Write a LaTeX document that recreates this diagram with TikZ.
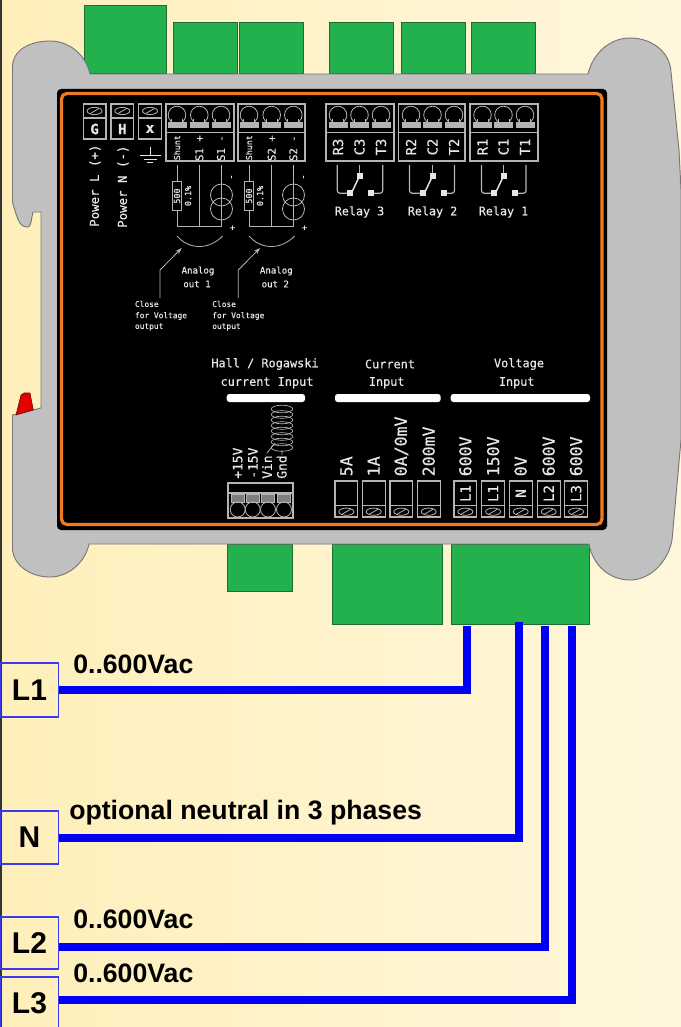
\documentclass[tikz,border=0pt]{standalone}
\usepackage{fontspec}
\usetikzlibrary{arrows.meta}
\setmainfont{Liberation Sans}
\newfontfamily\cadfont[FakeBold=0.4]{DejaVu Sans Mono}
\definecolor{bgl}{HTML}{FEEFBA}
\definecolor{bgr}{HTML}{FFF7DC}
\definecolor{greybody}{HTML}{C0C0C0}
\definecolor{bodyline}{HTML}{777777}
\definecolor{greenblock}{HTML}{23B14D}
\definecolor{greenline}{HTML}{1E6B38}
\definecolor{panelorange}{HTML}{F07A1E}
\definecolor{wireblue}{HTML}{0000F5}
\definecolor{boxblue}{HTML}{3A3AF0}
\definecolor{cadgrey}{HTML}{B4B4B4}
\definecolor{cadtext}{HTML}{E6E6E6}
\newcount\labn
\newcommand\cadsz[1]{\fontsize{#1}{#1}\cadfont}
% \txt{options}{x,y}{font size pt}{text}
\newcommand\txt[4]{\global\advance\labn by 1
  \node[cadlabel,#1] (lab\the\labn) at (#2) {\cadsz{#3}#4};}
\newcommand\screwtop[1]{%
  \draw[cadline] (#1,115) circle[radius=8.8];
  \fill[black] (#1-5.5,119) rectangle (#1+5.5,122);
  \draw[cadline] (#1-5.5,119) -- (#1-5.5,122) (#1+5.5,119) -- (#1+5.5,122);
  \draw[cadline,fill=cadgrey] (#1-9,122) rectangle (#1+9,127);}
\newcommand\screwflat[2]{%
  \draw[cadline] (#1,#2) ellipse[x radius=7.5, y radius=3.6];
  \draw[cadline] (#1-4.5,#2+2.6) -- (#1+4.5,#2-2.6);}
\newcommand\relaysym[4]{%
  \draw[cadline,line width=.9pt,rounded corners=2pt] (#1,165) -- (#1,193.3) -- (#2-10,193.3);
  \draw[cadline,line width=.7pt] (#2,165) -- (#2,176);
  \draw[cadline,line width=.9pt,rounded corners=2pt] (#3,165) -- (#3,193.3) -- (#2+11,193.3);
  \fill[cadtext] (#2-13,190.3) rectangle +(6,6);
  \fill[cadtext] (#2-3,173) rectangle +(6,6);
  \fill[cadtext] (#2+8.5,190.3) rectangle +(6,6);
  \draw[cadtext,line width=1.1pt] (#2,176) -- (#2-8,193);
  \txt{}{#2,212}{8.8}{Relay #4}}
\newcommand\analog[6]{% x of shunt, mid, right; num; arrow col; text x
  \draw[cadline] (#1,165) -- (#1,226) -- (#3,226);
  \draw[cadline] (#2,165) -- (#2,226);
  \draw[cadline] (#3,165) -- (#3,226);
  \draw[cadline,fill=black] (#1-4.5,181.7) rectangle (#1+4.5,210);
  \draw[cadline] (#3,195) circle[radius=11];
  \draw[cadline] (#3,209) circle[radius=11];
  \draw[cadline] (#3,165) -- (#3,226);
  \txt{rotate=90}{#1,196}{6.3}{500}
  \txt{rotate=90}{#1+11,196}{6.3}{0.1\%}
  \txt{rotate=90}{#3+11,177}{6.5}{-}
  \txt{}{#3+11,228}{6.5}{+}
  \draw[cadline] (#1,236) .. controls (#1+12,250) and (#3-12,250) .. (#3+1,236);
  \draw[cadline,-{Stealth[length=5pt,width=3.5pt]}] (#5,298) -- (#5,270) -- (#5+21.7,248);
  \txt{}{#5+38,271}{6.8}{Analog}
  \txt{}{#5+37,284}{6.8}{out #4}
  \txt{anchor=west}{#6,304}{5.9}{Close}
  \txt{anchor=west}{#6,316}{5.9}{for Voltage}
  \txt{anchor=west}{#6,327}{5.9}{output}}
\tikzset{
  cadline/.style={draw=cadgrey,line width=.6pt},
  cadlabel/.style={inner sep=0pt,text=cadtext},
  greenbox/.style={fill=greenblock,draw=greenline,line width=.6pt},
  wire/.style={draw=wireblue,line width=6pt},
  phasebox/.style={draw=boxblue,line width=.8pt,fill=none,minimum width=43.5pt,inner sep=0pt,font=\bfseries\fontsize{22.5}{22.5}\selectfont},
  wirelabel/.style={anchor=base west,inner sep=0pt,font=\bfseries\fontsize{20}{20}\selectfont},
  x=.75pt,y=-.75pt
}
\begin{document}
\begin{tikzpicture}
\useasboundingbox (0,0) rectangle (681,1027);
\shade[left color=bgl,right color=bgr] (0,0) rectangle (681,1027);
\fill[black!80] (0,0) rectangle (1.5,1027);
% green connectors
\foreach \a/\b/\c/\d in {84/5/166/73,173/22/237/73,239/22/303/73,329/22/393/73,401/22/465/73,471/22/535/73,227/544/292/591,332/544/442/624,451/544/589/624}
  \draw[greenbox] (\a,\b) rectangle (\c,\d);
% housing
\draw[fill=greybody,draw=bodyline,line width=.7pt]
  (12.5,67) .. controls (12.5,50) and (30,41) .. (50,41)
  .. controls (68,41) and (85,53) .. (90,74) -- (588,74)
  .. controls (593,53) and (610,38) .. (630,38)
  .. controls (652,38) and (670,52) .. (671,72)
  -- (679,150) -- (681,190) -- (681,440) -- (672,540)
  .. controls (668,562) and (650,580) .. (630,580)
  .. controls (610,580) and (593,566) .. (589,544) -- (89,544)
  .. controls (85,563) and (68,577) .. (50,577)
  .. controls (30,577) and (14,565) .. (12.5,550)
  -- (12.5,415) -- (41,408) -- (41,212) -- (33,212)
  .. controls (31,220) and (31,227) .. (28,227)
  .. controls (20,227) and (18,222) .. (12.5,202) -- cycle;
\draw[fill=red!90!black,draw=black!60!red,line width=.4pt] (16,415) -- (21,395) -- (24,393) -- (30,393) -- (33.3,410) -- cycle;
% panel
\fill[black,rounded corners=3pt] (57,89) rectangle (607,530);
\draw[panelorange,line width=2.4pt,rounded corners=4pt] (61.5,93.5) rectangle (602,524.5);
% Power terminals
\foreach \x/\t in {83.3/G,111/H,138.7/x}{
  \draw[cadline,line width=.8pt] (\x,104) rectangle (\x+22.7,139);
  \draw[cadline,line width=.8pt] (\x,118) -- (\x+22.7,118);
  \screwflat{\x+11.3}{111}
  \txt{font=\bfseries}{\x+11.3,129}{10.5}{\t}
}
\txt{rotate=90,anchor=west}{95,227}{9.3}{Power L (+)}
\txt{rotate=90,anchor=west}{123,228}{9.3}{Power N (-)}
\draw[cadtext,line width=.7pt] (150,147) -- (150,155.5) (139.5,155.5) -- (160.5,155.5) (143.5,159) -- (156.5,159) (147,162.5) -- (153,162.5);
% analog blocks
\foreach \l/\r/\a/\b/\c/\sa/\sb/\sc in {166/234/177/199.3/221/Shunt/S1 +/S1 -,238/305/249/271.7/293.3/Shunt/S2 +/S2 -}{
  \draw[cadline,line width=.8pt] (\l,104) rectangle (\r,161);
  \draw[cadline,line width=.8pt] (\l,132.7) -- (\r,132.7);
  \screwtop{\a}\screwtop{\b}\screwtop{\c}
  \txt{rotate=90,anchor=east}{\a,135}{6.2}{\sa}
  \txt{rotate=90,anchor=east}{\b,135}{8}{\sb}
  \txt{rotate=90,anchor=east}{\c,135}{8}{\sc}
}
\analog{177}{199.3}{221.5}{1}{160}{134.7}
\analog{249}{271.7}{293.5}{2}{238.3}{212}
% relay blocks
\foreach \l/\r/\a/\b/\c/\n in {326/394/338/359.5/381/3,398.7/465/411/432.5/454/2,470/538/482.5/503.5/525/1}{
  \draw[cadline,line width=.8pt] (\l,104) rectangle (\r,161);
  \draw[cadline,line width=.8pt] (\l,132.7) -- (\r,132.7);
  \screwtop{\a}\screwtop{\b}\screwtop{\c}
  \txt{rotate=90}{\a,147}{10.4}{R\n}
  \txt{rotate=90}{\b,147}{10.4}{C\n}
  \txt{rotate=90}{\c,147}{10.4}{T\n}
}
\relaysym{337.3}{359.5}{382.7}{3}
\relaysym{409.5}{432.5}{454.5}{2}
\relaysym{481.5}{503.5}{526}{1}
% section titles
\txt{}{265,364}{8.9}{Hall / Rogawski}
\txt{}{267,382.7}{8.9}{current Input}
\txt{}{390,364}{8.9}{Current}
\txt{}{386.7,382.7}{8.9}{Input}
\txt{}{519,364}{8.9}{Voltage}
\txt{}{516.7,382.7}{8.9}{Input}
\foreach \a/\b in {226.7/305,335/440.7,450.7/590}
  \fill[white,rounded corners=2pt] (\a,394) rectangle (\b,402);
% coil and Hall connector
\foreach \y in {409,414.5,...,449}
  \draw[cadline,line width=.5pt] (282,\y) ellipse[x radius=10.8, y radius=3.8];
\draw[cadline] (267,453) -- (275,443) (282,450) -- (282,455);
\foreach \x/\t in {237.7/+15V,253/-15V,267/Vin,281.7/Gnd}
  \txt{rotate=90,anchor=west}{\x,479}{9.7}{\t}
\draw[cadline,line width=.8pt] (228,483) rectangle (293,518);
\draw[cadline,line width=.8pt] (228,493) -- (293,493);
\foreach \x in {237.7,252.7,268,284}{
  \draw[cadline,fill=cadgrey!70!black] (\x-6.5,494) rectangle (\x+6.5,502);
  \draw[cadline] (\x,509.5) circle[radius=7.5];
}
% current and voltage terminals
\foreach \l/\t/\u in {335/5A/{},362.3/1A/{},390/0A\slash0mV/{},417.3/200mV/{},454/600V/L1,481.7/150V/L1,509.3/0V/N,537.3/600V/L2,564.7/600V/L3}{
  \draw[cadline,line width=.8pt] (\l,481) rectangle (\l+22.8,517);
  \draw[cadline,line width=.8pt] (\l,505.7) -- (\l+22.8,505.7);
  \screwflat{\l+11.4}{511.7}
  \txt{rotate=90,anchor=west}{\l+11.4,476.5}{12.4}{\t}
  \txt{rotate=90}{\l+11.4,493.5}{10.5}{\u}
}
% lines and terminals
\node[phasebox,minimum height=40.5pt] (boxL1) at (29.5,690) {L1};
\node[phasebox,minimum height=39.75pt] (boxN) at (29.5,837.5) {N};
\node[phasebox,minimum height=39pt] (boxL2) at (29.5,943) {L2};
\node[phasebox,minimum height=39.75pt] (boxL3) at (29.5,1003.5) {L3};
\coordinate (pinL1) at (466.5,626);
\coordinate (pinN) at (519,622);
\coordinate (pinL2) at (545,626);
\coordinate (pinL3) at (572,626);
\draw[wire] (boxL1.east) -| (pinL1);
\draw[wire] (boxN.east) -| (pinN);
\draw[wire] ([yshift=-3pt]boxL2.east) -| (pinL2);
\draw[wire] ([yshift=2.6pt]boxL3.east) -| (pinL3);
\node[wirelabel] (t1) at (73,673) {0..600Vac};
\node[wirelabel] (t2) at (69,819) {optional neutral in 3 phases};
\node[wirelabel] (t3) at (73,928) {0..600Vac};
\node[wirelabel] (t4) at (73,982) {0..600Vac};
\end{tikzpicture}
\end{document}
